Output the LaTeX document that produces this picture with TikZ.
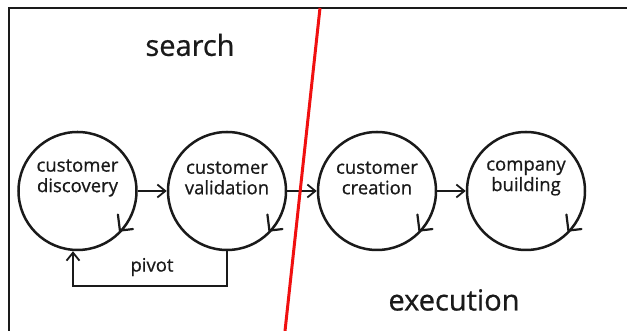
\documentclass[tikz,border=0pt]{standalone}
\usepackage{fontspec}
\setmainfont{Open Sans}
\newfontfamily\medfont{Open Sans}[BoldFont={Open Sans},BoldFeatures={FakeBold=0.7}]
\usetikzlibrary{arrows.meta}
\definecolor{ink}{HTML}{1A1A1A}
\definecolor{redline}{HTML}{F01010}
\begin{document}
\begin{tikzpicture}[x=1pt,y=1pt,
  stage/.style={circle,draw=ink,line width=2.5pt,minimum size=118pt,inner sep=0pt},
  stagetext/.style={text=ink,font=\medfont\bfseries\fontsize{18.5}{20.5}\selectfont,align=center,inner sep=0pt},
  flow/.style={draw=ink,line width=2.2pt,-{Straight Barb[length=8pt,width=13pt,line width=1.8pt]}},
  markline/.style={draw=ink,line width=2.2pt,line cap=round,line join=round},
  bigtext/.style={text=ink,font=\medfont\bfseries\fontsize{29}{34}\selectfont,inner sep=0pt}]
\useasboundingbox (0,0) rectangle (627,331);
\fill[white] (0,0) rectangle (627,331);
% frame
\coordinate (fl) at (9,0);
\coordinate (ftl) at (9,323);
\coordinate (ftr) at (627,323);
\draw[ink,line width=1.2pt] (fl) -- (ftl) -- (ftr);
% circles
\node[stage] (c1) at (77.5,140) {};
\node[stage] (c2) at (227,140) {};
\node[stage] (c3) at (377,140) {};
\node[stage] (c4) at (526,140) {};
\node[stagetext] (t1) at (77.5,153) {customer\\discovery};
\node[stagetext] (t2) at (227,153) {customer\\validation};
\node[stagetext] (t3) at (377,153) {customer\\creation};
\node[stagetext] (t4) at (526,153) {company\\building};
% loop marks (clockwise arrowheads on each circle)
\foreach \c in {c1,c2,c3,c4}{
  \path (\c) ++(-43:58) coordinate (\c m);
  \draw[markline] (\c m) ++(-2,16) -- (\c m) -- ++(13,1.5);
}
% red divider
\coordinate (ra) at (320,323);
\coordinate (rb) at (285,0);
% flow arrows
\draw[flow] (c1.east) -- (c2.west);
\draw[flow] (c2.east) -- (c3.west);
\draw[flow] (c3.east) -- (c4.west);
% pivot
\draw[flow] (c2.south) -- ++(0,-35) -| ([xshift=-4.5pt]c1.south);
\node[text=ink,font=\medfont\bfseries\fontsize{18.5}{20}\selectfont,inner sep=0pt] (pv) at (152,64) {pivot};
\draw[redline,line width=3pt] (ra) -- (rb);
% titles
\node[bigtext] (s) at (190,286) {search};
\node[bigtext] (e) at (454,31) {execution};
\end{tikzpicture}
\end{document}
